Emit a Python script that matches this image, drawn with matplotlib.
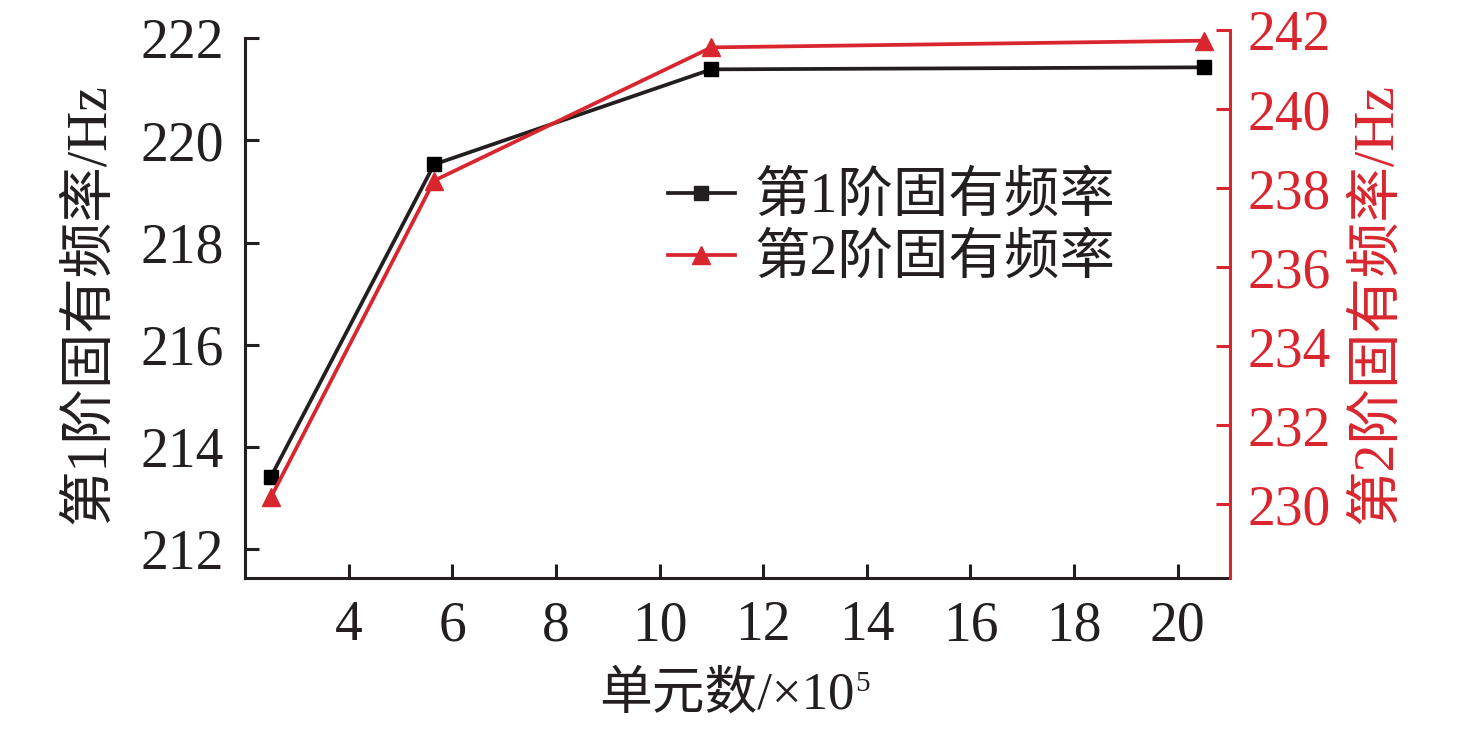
import matplotlib
matplotlib.use("Agg")
import matplotlib.pyplot as plt
from matplotlib.lines import Line2D

# ---- data ----
elements = [2.5, 5.65, 11.0, 20.5]          # 单元数 /×10^5
freq1 = [213.42, 219.53, 221.39, 221.43]    # 第1阶固有频率 (Hz)
freq2 = [230.18, 238.19, 241.56, 241.73]    # 第2阶固有频率 (Hz)
xticks = [4, 6, 8, 10, 12, 14, 16, 18, 20]
yticks1 = [212, 214, 216, 218, 220, 222]
yticks2 = [230, 232, 234, 236, 238, 240, 242]
label1 = "第1阶固有频率"
label2 = "第2阶固有频率"

FAM = ['Liberation Serif', 'Noto Sans CJK SC', 'DejaVu Sans']
plt.rcParams['font.family'] = FAM
plt.rcParams['axes.unicode_minus'] = False

BLACK = '#231f20'
RED = '#d9262e'
FS = 40
W, H = 1476, 730

fig = plt.figure(figsize=(W / 100, H / 100), dpi=100)
left, right, bottom, top = 245, 1229.5, 578, 30
ax = fig.add_axes([left / W, 1 - bottom / H, (right - left) / W, (bottom - top) / H])
ax2 = ax.twinx()

l1, = ax.plot(elements, freq1, color=BLACK, lw=2.7, marker='s', ms=10,
              mfc='black', mec='black', zorder=3)
l2, = ax2.plot(elements, freq2, color=RED, lw=2.7, marker='^', ms=13,
               mfc=RED, mec=RED, zorder=3)

ax.set_xlim(2, 21)
ax.set_ylim(211.44, 222.16)
ax2.set_ylim(228.14, 242)
ax.set_xticks(xticks)
ax.set_yticks(yticks1)
ax2.set_yticks(yticks2)

for s in ['top', 'right']:
    ax.spines[s].set_visible(False)
for s in ['top', 'left', 'bottom']:
    ax2.spines[s].set_visible(False)
ax.spines['left'].set_bounds(211.44, 222)
for s in ['left', 'bottom']:
    ax.spines[s].set_linewidth(2.2)
    ax.spines[s].set_color(BLACK)
ax2.spines['right'].set_linewidth(2.2)
ax2.spines['right'].set_color(RED)

ax.tick_params(axis='y', direction='in', length=10, width=2.2, color=BLACK,
               labelsize=FS, labelcolor=BLACK, pad=15)
ax.tick_params(axis='x', direction='in', length=10, width=2.2, color=BLACK,
               labelsize=FS, labelcolor=BLACK, pad=16)
ax2.tick_params(axis='y', direction='in', length=10, width=2.2, color=RED,
                labelsize=FS, labelcolor=RED, pad=13)

ax.set_ylabel("第1阶固有频率/Hz", fontsize=FS, color=BLACK)
ax.yaxis.set_label_coords(-0.157, 0.5)
ax.yaxis.label.set_va('center')
ax.yaxis.label.set_ha('center')
ax2.set_ylabel("第2阶固有频率/Hz", fontsize=FS, color=RED)
ax2.yaxis.set_label_coords(1.150, 0.5)
ax2.yaxis.label.set_va('center')
ax2.yaxis.label.set_ha('center')

ax.set_xlabel("单元数/×10", fontsize=38, color=BLACK)
ax.xaxis.set_label_coords(0.489, -0.215)
ax.xaxis.label.set_va('center')

fig.canvas.draw()
bb = ax.xaxis.label.get_window_extent()
fig.text((bb.x1 + 1) / W, (bb.y1 + 1) / H, "5", fontsize=21, color=BLACK,
         ha='left', va='top')

handles = [Line2D([], [], color=BLACK, lw=2.7, marker='s', ms=10),
           Line2D([], [], color=RED, lw=2.7, marker='^', ms=13)]
leg = ax.legend(handles, [label1, label2], loc='upper left',
                bbox_to_anchor=(668 / W, 1 - 172 / H), bbox_transform=fig.transFigure,
                frameon=False, fontsize=FS, handlelength=1.2, handletextpad=0.35,
                labelspacing=0.18, borderpad=0, borderaxespad=0)
for t in leg.get_texts():
    t.set_color(BLACK)

fig.savefig("out.png", dpi=100)
